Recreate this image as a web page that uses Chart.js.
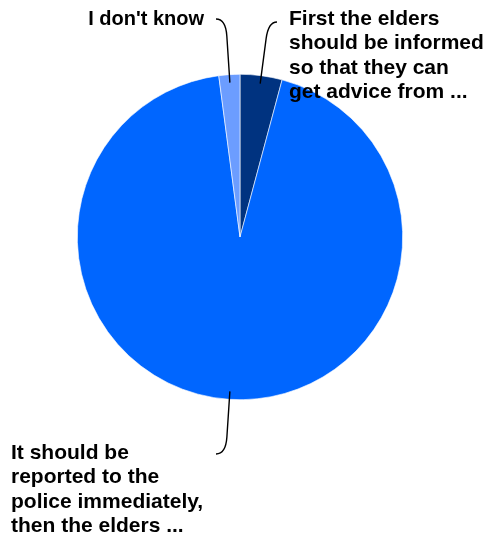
<!DOCTYPE html>
<html>
<head>
<meta charset="utf-8">
<script src="https://cdn.jsdelivr.net/npm/chart.js@4.4.1/dist/chart.umd.min.js"></script>
<style>
  html, body { margin: 0; padding: 0; background: #ffffff; }
  #wrap { width: 486px; height: 542px; position: relative; }
</style>
</head>
<body>
<div id="wrap"><canvas id="c" width="486" height="542"></canvas></div>
<script>
// ---- data ----
const categories = [
  "First the elders should be informed so that they can get advice from ...",
  "It should be reported to the police immediately, then the elders ...",
  "I don't know"
];
const values = [2, 45, 1];
const colors = ["#003380", "#0066ff", "#6c9dff"];
const labelLines = [
  ["First the elders", "should be informed", "so that they can", "get advice from ..."],
  ["It should be", "reported to the", "police immediately,", "then the elders ..."],
  ["I don't know"]
];

// label layout (text block placement and leader end point)
const labelLayout = [
  { textX: 289, firstBaseline: 25, align: "left",  endX: 277, endY: 22, size: 21 },
  { textX: 11,  firstBaseline: 459, align: "left", endX: 216, endY: 454, size: 21 },
  { textX: 204, firstBaseline: 25, align: "right", endX: 216, endY: 19, size: 20 }
];
const lineHeight = 24.3;

const leaderPlugin = {
  id: "leaders",
  afterDatasetsDraw(chart) {
    const ctx = chart.ctx;
    const meta = chart.getDatasetMeta(0);
    ctx.save();
    meta.data.forEach((arc, i) => {
      const p = arc.getProps(["x", "y", "startAngle", "endAngle", "outerRadius"], true);
      const mid = (p.startAngle + p.endAngle) / 2;
      const dx = Math.cos(mid), dy = Math.sin(mid);
      const L = labelLayout[i];
      const r0 = p.outerRadius - 8;
      const dCtrl = (L.endY - p.y) / dy;
      const cx = p.x + dx * dCtrl, cy = L.endY;
      const dStart = dCtrl - 17;
      ctx.beginPath();
      ctx.moveTo(p.x + dx * r0, p.y + dy * r0);
      ctx.lineTo(p.x + dx * dStart, p.y + dy * dStart);
      ctx.quadraticCurveTo(cx, cy, L.endX, L.endY);
      ctx.strokeStyle = "#000000";
      ctx.lineWidth = 1.4;
      ctx.stroke();

      ctx.font = "bold " + L.size + "px 'Liberation Sans', Arial, Helvetica, sans-serif";
      ctx.fillStyle = "#000000";
      ctx.textAlign = L.align;
      ctx.textBaseline = "alphabetic";
      labelLines[i].forEach((ln, k) => {
        ctx.fillText(ln, L.textX, L.firstBaseline + k * lineHeight);
      });
    });
    ctx.restore();
  }
};

new Chart(document.getElementById("c"), {
  type: "pie",
  data: {
    labels: categories,
    datasets: [{
      data: values,
      backgroundColor: colors,
      borderColor: "#ffffff",
      borderWidth: 0.6
    }]
  },
  options: {
    responsive: false,
    animation: false,
    layout: { padding: { top: 74, bottom: 142, left: 77, right: 83 } },
    plugins: {
      legend: { display: false },
      tooltip: { enabled: false }
    }
  },
  plugins: [leaderPlugin]
});
</script>
</body>
</html>
